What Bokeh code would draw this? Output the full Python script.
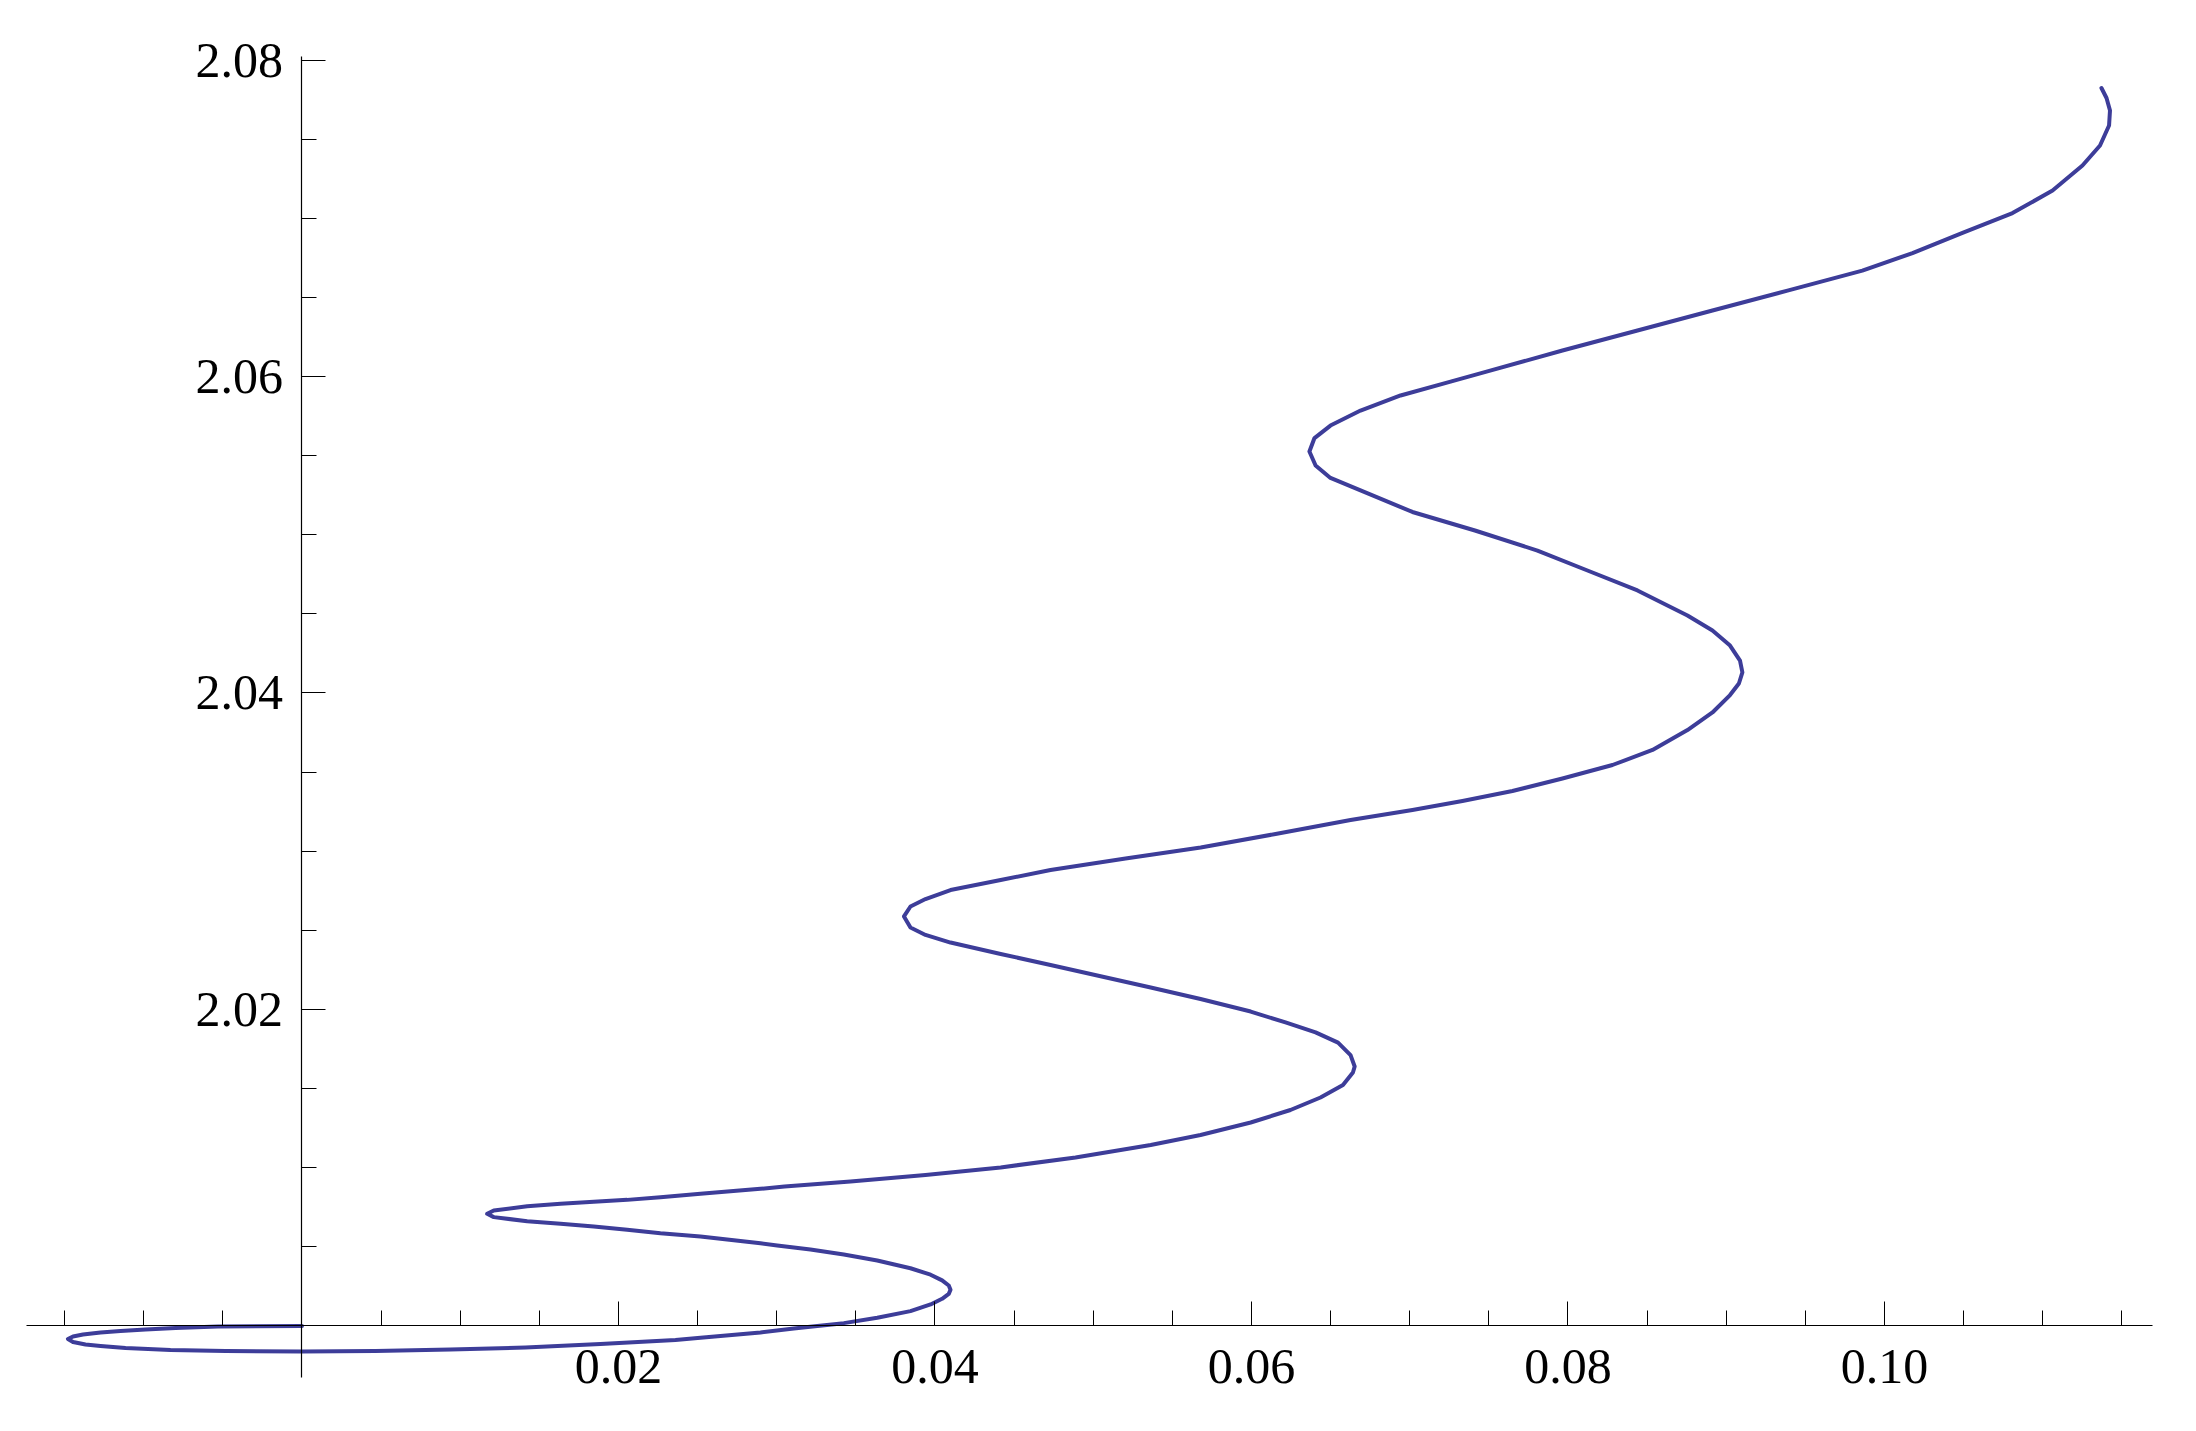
from bokeh.plotting import figure
from bokeh.models import LinearAxis, FixedTicker, PrintfTickFormatter, Range1d
from bokeh.embed import file_html
from bokeh.resources import INLINE

# traced parametric curve, in drawing order
curve_x = [0.0, -0.00531, -0.00799, -0.00989, -0.01147, -0.01273, -0.01384, -0.01447,
           -0.01479, -0.01447, -0.01368, -0.01273, -0.01115, -0.00831, -0.00483, 0.0,
           0.00464, 0.00938, 0.01412, 0.01886, 0.0236, 0.02518, 0.02897, 0.03108,
           0.03256, 0.03424, 0.03635, 0.03845, 0.03972, 0.04045, 0.04087, 0.04098,
           0.04087, 0.04045, 0.03972, 0.03845, 0.03635, 0.03424, 0.03213, 0.03003,
           0.02897, 0.02518, 0.02265, 0.02055, 0.01844, 0.01634, 0.01423, 0.01212,
           0.0117, 0.01212, 0.01423, 0.01634, 0.01844, 0.02055, 0.02265, 0.02518,
           0.02897, 0.03049, 0.03466, 0.0394, 0.04415, 0.04888, 0.05363, 0.05678,
           0.05995, 0.06246, 0.06436, 0.06578, 0.06641, 0.06652, 0.06626, 0.06547,
           0.06405, 0.06215, 0.05995, 0.05678, 0.05363, 0.0473, 0.04415, 0.04098,
           0.0394, 0.03845, 0.03804, 0.03845, 0.0394, 0.04098, 0.04415, 0.0473,
           0.05204, 0.05679, 0.06152, 0.06626, 0.07017, 0.07333, 0.07649, 0.07965,
           0.08281, 0.08534, 0.08755, 0.08913, 0.09024, 0.0908, 0.09102, 0.09087,
           0.09024, 0.08913, 0.08755, 0.08439, 0.08123, 0.07807, 0.07412, 0.07017,
           0.06689, 0.06499, 0.06405, 0.06366, 0.06398, 0.06499, 0.06689, 0.06942,
           0.07258, 0.07491, 0.07965, 0.08439, 0.08913, 0.09387, 0.0986, 0.10177,
           0.10493, 0.10809, 0.11062, 0.11251, 0.11362, 0.11419, 0.11425, 0.11403,
           0.11371]
curve_y = [2.0, 1.99997, 1.99987, 1.99978, 1.99968, 1.99959, 1.99946, 1.99934,
           1.99918, 1.99899, 1.99883, 1.99874, 1.99861, 1.99848, 1.99842, 1.99839,
           1.99842, 1.99851, 1.99864, 1.99886, 1.99912, 1.99925, 1.99959, 1.99984,
           2.0, 2.00018, 2.00052, 2.00094, 2.00136, 2.00172, 2.00203, 2.00229,
           2.00256, 2.00288, 2.00324, 2.00365, 2.00414, 2.00452, 2.00483, 2.00509,
           2.00523, 2.00566, 2.00586, 2.00608, 2.00629, 2.00646, 2.00662, 2.00688,
           2.00709, 2.0073, 2.00757, 2.00772, 2.00785, 2.00797, 2.00814, 2.00835,
           2.00867, 2.00882, 2.00913, 2.00954, 2.01002, 2.01065, 2.01144, 2.01207,
           2.01286, 2.01365, 2.01444, 2.01523, 2.01602, 2.0164, 2.01712, 2.01791,
           2.01855, 2.01918, 2.01987, 2.02066, 2.02139, 2.02281, 2.02351, 2.02423,
           2.02471, 2.02518, 2.02588, 2.02651, 2.02698, 2.02755, 2.02818, 2.02882,
           2.02954, 2.03024, 2.03109, 2.03197, 2.03261, 2.03318, 2.03381, 2.0346,
           2.03545, 2.0364, 2.03766, 2.03877, 2.03987, 2.0406, 2.0413, 2.04205,
           2.043, 2.04395, 2.0449, 2.04648, 2.04774, 2.049, 2.05027, 2.05144,
           2.0528, 2.05359, 2.05438, 2.05526, 2.05611, 2.0569, 2.05785, 2.0588,
           2.05968, 2.06032, 2.06164, 2.06291, 2.06417, 2.06543, 2.06669, 2.0678,
           2.06907, 2.07033, 2.07175, 2.07333, 2.0746, 2.07586, 2.07681, 2.0776,
           2.07823]

x_major = [0.02, 0.04, 0.06, 0.08, 0.10]
x_minor = [-0.015, -0.01, -0.005, 0.005, 0.01, 0.015, 0.025, 0.03, 0.035,
           0.045, 0.05, 0.055, 0.065, 0.07, 0.075, 0.085, 0.09, 0.095,
           0.105, 0.11, 0.115]
y_major = [2.02, 2.04, 2.06, 2.08]
y_minor = [2.005, 2.01, 2.015, 2.025, 2.03, 2.035, 2.045, 2.05, 2.055,
           2.065, 2.07, 2.075]
x_axis_span = (-0.01741, 0.11694)
y_axis_span = (1.99675, 2.0802)

W, H = 2180, 1415
p = figure(width=W, height=H, output_backend="svg", toolbar_location=None,
           x_axis_location=None, y_axis_location=None,
           x_range=Range1d(-0.019052, 0.118705), y_range=Range1d(1.994344, 2.083760),
           min_border=0)
p.outline_line_color = None
p.grid.visible = False
p.background_fill_color = "white"
p.border_fill_color = "white"

font = "Liberation Serif, Times New Roman, serif"

xa = LinearAxis(fixed_location=2.0, bounds=x_axis_span,
                ticker=FixedTicker(ticks=x_major, minor_ticks=x_minor),
                formatter=PrintfTickFormatter(format="%.2f"))
ya = LinearAxis(fixed_location=0.0, bounds=y_axis_span,
                ticker=FixedTicker(ticks=y_major, minor_ticks=y_minor),
                formatter=PrintfTickFormatter(format="%.2f"))
for ax in (xa, ya):
    ax.axis_line_color = "black"
    ax.axis_line_width = 1.2
    ax.major_tick_line_color = "black"
    ax.minor_tick_line_color = "black"
    ax.major_tick_line_width = 1
    ax.minor_tick_line_width = 1
    ax.major_tick_in = 24
    ax.major_tick_out = 0
    ax.minor_tick_in = 15
    ax.minor_tick_out = 0
    ax.major_label_text_font = font
    ax.major_label_text_font_size = "50px"
    ax.major_label_text_color = "black"
xa.major_label_standoff = 24
ya.major_label_standoff = 19
p.add_layout(xa, "below")
p.add_layout(ya, "left")

p.line(curve_x, curve_y, line_color="#3d3d99", line_width=4, line_join="round",
       line_cap="round")

open("out.html", "w").write(file_html(p, INLINE))
